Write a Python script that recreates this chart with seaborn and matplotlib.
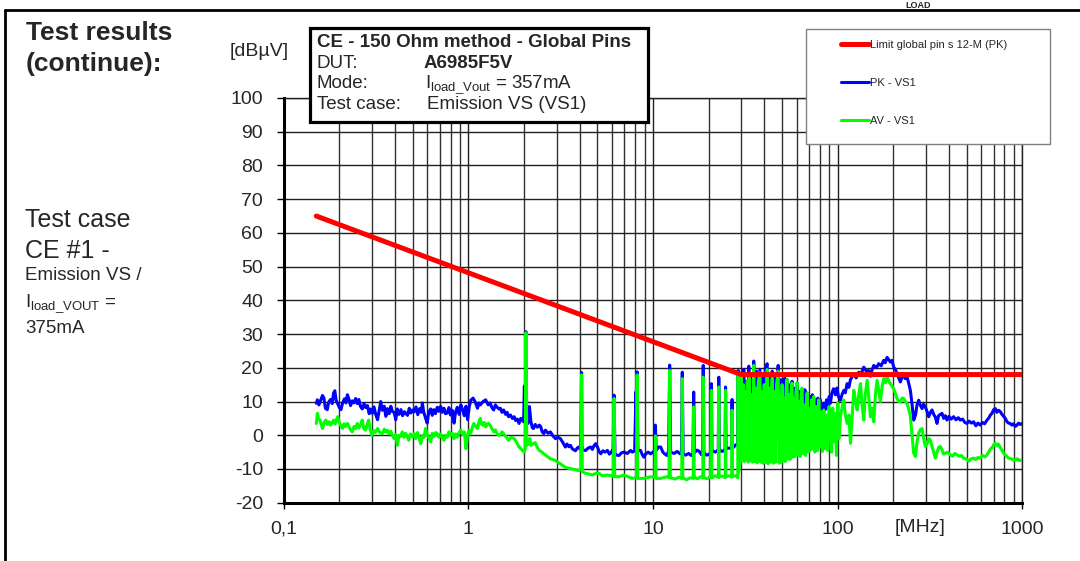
import matplotlib
matplotlib.use("Agg")
import matplotlib.pyplot as plt
from matplotlib.patches import Rectangle
from matplotlib.lines import Line2D
from matplotlib.ticker import FixedLocator, FixedFormatter, LogLocator, NullFormatter
import seaborn as sns

# ---- data (MHz, dBuV) ----
limit_freq = [0.15, 30, 1000]
limit_level = [65, 18, 18]

pk_points = [
    (0.150, 9.5), (0.152, 10.5), (0.155, 9.0), (0.158, 10.2), (0.162, 11.8), (0.165, 11.0),
    (0.168, 8.0), (0.172, 7.6), (0.175, 9.8), (0.179, 10.6), (0.183, 9.4), (0.186, 12.5),
    (0.189, 13.2), (0.192, 10.4), (0.196, 9.3), (0.200, 8.2), (0.204, 7.6), (0.208, 9.5),
    (0.213, 10.8), (0.217, 9.6), (0.221, 12.0), (0.226, 10.5), (0.230, 8.8), (0.235, 10.2),
    (0.240, 9.6), (0.245, 10.9), (0.250, 9.4), (0.255, 10.6), (0.260, 8.6), (0.266, 7.8),
    (0.272, 9.4), (0.278, 8.2), (0.284, 8.8), (0.290, 6.4), (0.296, 7.8), (0.302, 6.5),
    (0.308, 8.4), (0.315, 6.1), (0.322, 4.6), (0.328, 7.2), (0.335, 10.0), (0.342, 7.4),
    (0.350, 8.6), (0.357, 5.6), (0.364, 7.9), (0.372, 6.4), (0.380, 8.6), (0.388, 7.0),
    (0.396, 6.8), (0.404, 4.6), (0.412, 7.8), (0.421, 6.2), (0.431, 7.6), (0.440, 5.8),
    (0.450, 7.0), (0.459, 6.4), (0.468, 5.9), (0.478, 8.0), (0.488, 6.6), (0.498, 7.5),
    (0.508, 6.9), (0.520, 8.4), (0.532, 6.1), (0.544, 7.9), (0.556, 6.8), (0.563, 9.6),
    (0.572, 7.0), (0.585, 5.2), (0.598, 3.6), (0.610, 6.9), (0.624, 7.8), (0.637, 5.9),
    (0.649, 7.6), (0.663, 6.4), (0.678, 8.3), (0.692, 7.1), (0.707, 8.6), (0.722, 6.8),
    (0.737, 8.0), (0.752, 6.4), (0.768, 6.6), (0.784, 8.2), (0.800, 6.0), (0.818, 7.4),
    (0.836, 3.6), (0.852, 6.9), (0.870, 8.3), (0.890, 6.2), (0.910, 9.0), (0.930, 7.6),
    (0.950, 5.8), (0.970, 8.6), (0.990, 4.6), (1.010, 8.4),
    (1.03, 10.4), (1.06, 11.0), (1.09, 9.8), (1.12, 8.0), (1.14, 9.6), (1.16, 9.0),
    (1.20, 10.0), (1.24, 10.5), (1.28, 9.0), (1.31, 9.6), (1.34, 8.2), (1.37, 7.5),
    (1.40, 9.0), (1.42, 8.5), (1.46, 7.8), (1.49, 8.0), (1.52, 6.8), (1.55, 7.5),
    (1.59, 6.2), (1.62, 6.8), (1.65, 5.5), (1.69, 6.0), (1.73, 5.0), (1.77, 5.5),
    (1.80, 4.4), (1.84, 4.8), (1.88, 3.5), (1.92, 5.0), (1.96, 4.5), (1.99, 4.0),
    (2.01, 14.6), (2.03, 5.0), (2.05, 30.7), (2.07, 4.0), (2.10, 3.5), (2.14, 8.5),
    (2.18, 4.0), (2.22, 2.2), (2.25, 2.0), (2.30, 3.2), (2.36, 2.4), (2.42, 3.0),
    (2.46, 2.6), (2.51, 1.0), (2.56, 0.5), (2.61, 1.5), (2.70, 0.6), (2.78, 1.0),
    (2.87, -0.2), (2.96, -1.0), (3.05, -0.6), (3.15, -1.0), (3.25, -2.2), (3.35, -3.5),
    (3.42, -2.6), (3.50, -3.4), (3.57, -3.0), (3.65, -4.0), (3.72, -4.3), (3.80, -4.6),
    (3.88, -3.8), (3.96, -3.5), (4.04, -4.2), (4.08, 5.0), (4.10, 18.6), (4.12, -3.0),
    (4.16, -4.4), (4.31, -4.5), (4.45, -3.8), (4.59, -3.5), (4.69, -4.2), (4.80, -3.0),
    (4.89, -2.5), (5.00, -3.5), (5.10, -4.8), (5.21, -5.5), (5.35, -4.6), (5.50, -5.0),
    (5.66, -4.5), (5.80, -5.6), (5.95, -5.0), (6.08, -4.0), (6.15, 11.9), (6.22, -5.5),
    (6.35, -5.9), (6.54, -6.0), (6.75, -5.2), (6.96, -5.0), (7.25, -5.4), (7.56, -4.5),
    (7.72, -5.0), (7.95, -4.6), (8.08, 12.9), (8.14, -3.0), (8.20, 18.8), (8.28, -4.5),
    (8.56, -4.5), (8.75, -5.8), (8.92, -6.5), (9.10, -5.6), (9.40, -5.0), (9.70, -5.5),
    (10.0, -5.0), (10.2, -4.5), (10.3, 3.0), (10.4, -4.5), (10.7, -3.5), (11.0, -3.5),
    (11.3, -5.0), (11.6, -5.6), (11.9, -6.0), (12.15, -4.5), (12.3, 20.8), (12.45, -5.0),
    (13.0, -5.4), (13.5, -4.8), (14.0, -5.5), (14.25, -5.2), (14.4, 18.7), (14.55, -5.5),
    (15.0, -5.9), (15.6, -5.4), (16.1, -6.0), (16.45, -5.5), (16.6, 12.8), (16.75, -5.2),
    (17.3, -4.4), (17.8, -4.8), (18.3, -5.8), (18.55, -5.6), (18.7, 20.7), (18.85, -5.2),
    (19.5, -5.9), (20.2, -5.6), (20.55, -5.0), (20.7, 15.3), (20.85, -4.5), (21.7, -5.0),
    (22.3, -4.6), (22.55, -4.8), (22.7, 17.2), (22.85, -4.2), (23.6, -4.8), (24.4, -4.5),
    (24.55, -4.0), (24.7, 14.3), (24.85, -4.0), (25.7, -3.8), (26.4, -3.9), (26.65, -3.5),
    (26.8, 10.6), (26.95, -3.8), (27.9, -3.0), (28.7, -2.5), (28.9, 19.2), (29.2, -2.0),
    (29.6, -3.0), (30.0, 17.5), (30.5, 2.0), (31.0, 19.5), (31.5, 0.0), (32.0, 16.0),
    (32.5, 3.0), (33.0, 20.5), (33.6, 1.0), (34.2, 18.0), (34.8, 2.0), (35.1, 22.0),
    (35.7, 0.0), (36.3, 19.0), (36.9, 3.0), (37.9, 19.5), (38.5, 1.0), (39.2, 17.0),
    (39.9, 4.0), (40.6, 20.0), (41.5, 21.2), (42.2, 2.0), (42.9, 18.0), (43.5, 5.0),
    (44.2, 19.0), (45.0, 3.0), (45.8, 17.0), (46.6, 6.0), (47.6, 20.7), (48.4, 4.0),
    (49.2, 16.5), (50.0, 15.5), (50.8, 5.0), (51.7, 17.0), (52.5, 6.0), (53.2, 16.5),
    (54.2, 4.0), (55.2, 15.0), (56.0, 6.0), (56.6, 16.0), (57.6, 7.0), (58.7, 14.0),
    (59.5, 5.0), (60.3, 15.5), (61.4, 8.0), (62.5, 13.0), (63.3, 6.0), (64.2, 12.0),
    (65.2, 9.0), (66.4, 13.5), (67.3, 7.0), (68.3, 12.5), (69.5, 9.0), (70.8, 11.5),
    (72.0, 7.0), (73.0, 12.0), (74.2, 8.0), (75.5, 10.5), (77.0, 7.5), (78.0, 11.0),
    (79.0, 9.0), (80.5, 10.5), (82.0, 7.0), (84.1, 9.5), (85.5, 7.5), (87.0, 10.5),
    (88.5, 8.0), (90.0, 11.5), (91.3, 9.5), (93.0, 12.5), (95.0, 13.8), (97.2, 12.0),
    (99.0, 14.0), (101.0, 11.5), (103.5, 10.4), (105.5, 12.0), (107.9, 13.3), (110, 12.6),
    (112.5, 15.3), (115, 14.2), (117.3, 16.5), (120, 17.4), (122.3, 18.2), (126, 17.0),
    (130.1, 18.7), (134, 18.2), (138.5, 20.2), (143, 19.0), (147.4, 19.2), (150.5, 17.5),
    (154, 19.6), (156.9, 20.7), (162, 20.0), (166.9, 21.2), (172, 20.6), (177.6, 22.2),
    (181, 21.5), (185.1, 23.1), (189, 22.4), (193.0, 21.7), (197, 22.2), (201.2, 20.2),
    (205, 19.6), (209.7, 18.2), (214, 17.0), (218.6, 15.8), (223, 17.2), (227.9, 17.7),
    (232, 16.8), (237.6, 17.3), (242, 15.6), (247.6, 13.3), (253, 9.0), (258.1, 4.5),
    (264, 6.0), (269, 9.0), (274.8, 10.4), (280, 9.0), (286.4, 7.9), (292, 9.2),
    (298.5, 8.4), (305, 7.0), (311.2, 5.5), (318, 6.8), (324.4, 7.5), (331, 6.2),
    (338, 5.4), (345.2, 3.5), (352, 5.8), (360, 6.2), (367.4, 6.5), (375, 5.0),
    (383, 5.8), (391, 4.5), (400, 5.6), (412, 4.8), (424.8, 5.5), (437, 4.6),
    (450, 5.2), (461.6, 4.5), (475, 4.8), (488, 3.8), (501.6, 3.5), (515, 4.2),
    (530, 3.6), (545, 4.0), (560, 2.8), (575, 3.6), (592, 3.0), (608, 3.8),
    (625, 3.4), (644, 4.5), (660, 5.2), (672, 6.0), (685, 6.5), (700, 7.6),
    (714, 7.9), (728, 6.8), (744, 7.4), (760, 7.0), (776, 6.2), (792, 5.6),
    (809, 5.0), (826, 4.0), (843, 3.6), (860, 3.5), (878, 3.0), (897, 3.4),
    (916, 2.6), (935, 3.0), (955, 3.6), (975, 3.2), (1000, 3.5),
]

av_points = [
    (0.150, 3.5), (0.152, 6.5), (0.154, 5.0), (0.157, 4.5), (0.160, 3.0), (0.162, 2.0),
    (0.165, 3.6), (0.169, 4.5), (0.172, 3.2), (0.176, 4.0), (0.179, 3.0), (0.183, 3.8),
    (0.186, 4.5), (0.190, 3.4), (0.193, 4.6), (0.196, 5.5), (0.200, 3.6), (0.204, 2.8),
    (0.208, 2.0), (0.212, 3.4), (0.216, 2.6), (0.221, 3.5), (0.226, 2.4), (0.230, 1.6),
    (0.235, 1.0), (0.240, 2.6), (0.245, 2.0), (0.250, 3.5), (0.255, 2.2), (0.260, 3.0),
    (0.266, 4.5), (0.271, 2.0), (0.277, 1.5), (0.282, 3.0), (0.288, 4.5), (0.294, 1.6),
    (0.300, 0.0), (0.306, 1.4), (0.313, 0.8), (0.322, 2.0), (0.330, 1.0), (0.336, 0.6),
    (0.342, 0.5), (0.350, 1.8), (0.357, 1.0), (0.364, 1.5), (0.372, 0.4), (0.380, 1.2),
    (0.388, -0.2), (0.396, -1.0), (0.404, 0.2), (0.412, -3.0), (0.420, 0.0), (0.429, -0.4),
    (0.438, 1.0), (0.447, -0.6), (0.456, 0.6), (0.465, -0.2), (0.475, -1.5), (0.485, 0.4),
    (0.496, -0.4), (0.508, 0.5), (0.518, -1.0), (0.530, 0.8), (0.541, -0.8), (0.552, -2.5),
    (0.564, 0.0), (0.575, -0.6), (0.586, 2.0), (0.598, 0.2), (0.611, -0.8), (0.624, -2.0),
    (0.637, 0.6), (0.650, -0.4), (0.664, 0.8), (0.678, 0.5), (0.692, -0.6), (0.707, 0.4),
    (0.722, -0.8), (0.737, -1.5), (0.752, 0.0), (0.768, -0.6), (0.784, 1.0), (0.800, 0.0),
    (0.818, 0.6), (0.836, -1.0), (0.852, 0.4), (0.870, -0.6), (0.890, 0.8), (0.910, 1.5),
    (0.930, 0.2), (0.950, 1.0), (0.970, -4.0), (0.990, 0.2), (1.010, 1.5),
    (1.03, 0.6), (1.05, 2.4), (1.07, 3.5), (1.10, 2.5), (1.12, 2.0), (1.14, 4.0),
    (1.16, 5.0), (1.18, 3.2), (1.20, 3.0), (1.22, 3.8), (1.24, 2.5), (1.26, 3.0),
    (1.28, 3.6), (1.31, 3.0), (1.34, 2.0), (1.37, 1.0), (1.40, 1.6), (1.42, 0.8),
    (1.45, 0.0), (1.49, 0.2), (1.52, 1.0), (1.55, 0.5), (1.60, -0.5), (1.65, -1.5),
    (1.70, -0.6), (1.77, -1.0), (1.82, -2.0), (1.88, -3.5), (1.94, -4.2), (2.00, -5.0),
    (2.03, -4.0), (2.05, 30.4), (2.07, -3.0), (2.12, -2.5), (2.15, -1.0), (2.18, -3.0),
    (2.25, -2.5), (2.30, -2.2), (2.36, -3.6), (2.42, -4.5), (2.50, -5.0), (2.56, -5.5),
    (2.66, -6.2), (2.78, -7.0), (2.87, -7.2), (2.96, -7.5), (3.05, -8.0), (3.15, -8.5),
    (3.25, -9.0), (3.35, -9.5), (3.50, -9.8), (3.65, -10.0), (3.80, -10.2), (3.96, -10.5),
    (4.06, -10.0), (4.10, 17.9), (4.14, -10.8), (4.31, -11.3), (4.50, -11.5), (4.69, -11.8),
    (4.89, -11.3), (5.10, -11.3), (5.30, -12.0), (5.66, -11.8), (5.90, -12.0), (6.10, -12.0),
    (6.15, 10.9), (6.20, -12.3), (6.54, -12.3), (6.96, -11.8), (7.25, -12.2), (7.72, -12.8),
    (8.14, -12.5), (8.20, 17.9), (8.26, -12.8), (8.92, -12.8), (9.70, -12.3), (10.22, -12.5),
    (10.3, -0.2), (10.38, -12.8), (10.97, -12.8), (11.9, -12.3), (12.2, -12.5), (12.3, 19.2),
    (12.4, -12.6), (13.2, -13.0), (13.8, -12.4), (14.3, -12.8), (14.4, 16.8), (14.5, -12.6),
    (15.2, -13.2), (15.9, -12.6), (16.5, -12.8), (16.6, 8.4), (16.7, -12.4), (17.4, -12.9),
    (18.1, -12.3), (18.6, -12.7), (18.7, 17.2), (18.8, -12.5), (19.6, -12.9), (20.5, -12.3),
    (20.7, 13.3), (20.8, -12.6), (21.8, -12.0), (22.6, -12.5), (22.7, 14.3), (22.8, -12.4),
    (23.6, -12.1), (24.6, -12.6), (24.7, 13.3), (24.8, -12.3), (25.8, -12.0), (26.7, -12.4),
    (26.8, 7.4), (26.9, -12.2), (28.0, -12.0), (28.8, -12.6), (28.9, 18.2), (29.0, -11.0),
    (29.6, -8.0), (30.0, 17.5), (30.4, -7.5), (30.8, 15.0), (31.2, -7.8), (31.6, 13.0),
    (32.0, -7.5), (32.4, 16.0), (32.8, -8.0), (33.2, 17.0), (33.6, -7.5), (34.0, 12.0),
    (34.5, -8.0), (35.1, 20.7), (35.6, -7.8), (36.1, 14.0), (36.6, -8.2), (37.2, 16.0),
    (37.9, 18.5), (38.4, -8.0), (38.9, 13.0), (39.4, -8.3), (40.0, 15.0), (40.6, -8.0),
    (41.5, 19.5), (42.0, -8.5), (42.6, 14.0), (43.2, -8.0), (43.8, 12.0), (44.2, 17.0),
    (44.8, -8.3), (45.4, 13.0), (46.0, -8.0), (46.7, 15.0), (47.6, 19.0), (48.2, -8.3),
    (48.9, 12.0), (49.5, -8.0), (50.0, 15.0), (50.6, -7.5), (51.3, 11.0), (52.0, -7.8),
    (52.6, 14.0), (53.2, 16.5), (53.8, -7.0), (54.5, 12.0), (55.2, -7.2), (55.9, 13.0),
    (56.6, 15.5), (57.2, -6.5), (57.9, 11.0), (58.6, -6.3), (59.4, 13.0), (60.3, 15.5),
    (61.0, -6.0), (61.8, 10.0), (62.6, -6.3), (63.4, 12.0), (64.2, 14.0), (65.0, -5.5),
    (66.0, 9.0), (67.0, -6.0), (68.3, 12.5), (69.2, -5.0), (70.2, 8.0), (71.2, -4.5),
    (72.2, 10.5), (73.2, -4.0), (74.2, 11.5), (75.3, -5.0), (76.5, 8.5), (77.7, -4.5),
    (79.0, 10.5), (80.2, -3.5), (81.5, 7.0), (82.8, -4.8), (84.1, 7.5), (85.5, -4.0),
    (87.0, 6.0), (88.4, -4.5), (89.8, 8.5), (91.3, 6.0), (92.7, -5.0), (94.0, 8.0),
    (95.5, -2.0), (97.2, 6.5), (98.5, -6.0), (100.0, 9.5), (101.5, -1.0), (103.5, 5.5),
    (105.5, 8.0), (107.9, 10.4), (110, 6.0), (112.5, 3.5), (115, 6.0), (117.3, -2.4),
    (120, 6.0), (122.3, 13.3), (125, 10.0), (127.5, 7.5), (130, 12.0), (132.9, 15.3),
    (135.5, 9.0), (138.5, 4.5), (141, 12.0), (144.4, 16.3), (147.5, 11.0), (150.5, 5.5),
    (153.5, 8.0), (156.9, 4.0), (160, 12.0), (163.5, 16.3), (167, 13.0), (170.4, 10.0),
    (174, 14.5), (177.6, 16.8), (181, 15.5), (185.1, 17.7), (189, 16.0), (193.0, 15.3),
    (197, 14.5), (201.2, 13.8), (205, 12.5), (209.7, 10.9), (214, 10.0), (218.6, 9.9),
    (223, 11.0), (227.9, 10.9), (232, 10.0), (237.6, 9.4), (242, 8.0), (247.6, 5.5),
    (253, 0.0), (258.1, -5.3), (263.6, -6.3), (269, -2.0), (274.8, 0.6), (280, 1.6),
    (286.4, 2.0), (292, -1.0), (298.5, -3.3), (305, -2.5), (311, -1.0), (317.7, -1.4),
    (325, -3.5), (331, -5.0), (338.1, -6.8), (346, -5.0), (352, -3.6), (359.8, -3.3),
    (368, -4.5), (375, -5.6), (383, -5.3), (395, -5.0), (407.5, -5.8), (420, -6.2),
    (431, -5.4), (442.8, -5.8), (455, -6.2), (468, -6.0), (481.2, -6.8), (496, -7.0),
    (512, -7.7), (528, -7.0), (545, -6.8), (560, -7.2), (575, -6.6), (592, -6.8),
    (610, -6.0), (628, -6.4), (644, -5.8), (660, -4.8), (672, -4.0), (685, -3.8),
    (700, -2.8), (714, -2.4), (728, -3.0), (741, -2.6), (754, -3.3), (770, -4.2),
    (792, -5.3), (816, -6.0), (843, -6.8), (875, -7.0), (895, -7.4), (916, -7.3),
    (940, -7.0), (970, -7.5), (1000, -7.3),
]

x_ticks = [0.1, 1, 10, 100, 1000]
x_tick_labels = ["0,1", "1", "10", "100", "1000"]
y_ticks = [-20, -10, 0, 10, 20, 30, 40, 50, 60, 70, 80, 90, 100]

series_names = ["Limit global pin s 12-M (PK)", "PK - VS1", "AV - VS1"]

pk_freq, pk_level = zip(*pk_points)
av_freq, av_level = zip(*av_points)

# ---- style ----
sns.set_theme(style="white")
plt.rcParams["font.family"] = ["Liberation Sans", "DejaVu Sans"]
plt.rcParams["axes.unicode_minus"] = False
plt.rcParams["mathtext.fontset"] = "custom"
plt.rcParams["mathtext.rm"] = "Liberation Sans"
plt.rcParams["mathtext.it"] = "Liberation Sans:italic"
plt.rcParams["mathtext.bf"] = "Liberation Sans:bold"

W, H = 1080, 561


def px(x, y):
    # pixel position (from top-left) -> figure fraction
    return x / W, 1 - y / H


fig = plt.figure(figsize=(W / 100, H / 100), dpi=100)
ax = fig.add_axes([283.8 / W, 1 - 502.7 / H, 738.5 / W, 404.7 / H])

sns.lineplot(x=list(pk_freq), y=list(pk_level), ax=ax, color="#0000ff", lw=2.2,
             sort=False, estimator=None, label=series_names[1], zorder=3)
sns.lineplot(x=list(av_freq), y=list(av_level), ax=ax, color="#00ff00", lw=2.2,
             sort=False, estimator=None, label=series_names[2], zorder=4)
sns.lineplot(x=limit_freq, y=limit_level, ax=ax, color="#ff0000", lw=3.6,
             sort=False, estimator=None, label=series_names[0], zorder=5)

handles, labels = ax.get_legend_handles_labels()
ax.get_legend().remove()

ax.set_xscale("log")
ax.set_xlim(0.1, 1000)
ax.set_ylim(-20, 100)
ax.set_xlabel("")
ax.set_ylabel("")

ax.xaxis.set_major_locator(FixedLocator(x_ticks))
ax.xaxis.set_major_formatter(FixedFormatter(x_tick_labels))
ax.xaxis.set_minor_locator(LogLocator(base=10, subs=range(2, 10)))
ax.xaxis.set_minor_formatter(NullFormatter())
ax.yaxis.set_major_locator(FixedLocator(y_ticks))

ax.grid(which="major", axis="both", color="#202020", lw=1.0)
ax.grid(which="minor", axis="x", color="#303030", lw=1.0)
ax.set_axisbelow(True)

for side in ["left", "bottom"]:
    ax.spines[side].set_color("black")
    ax.spines[side].set_linewidth(2.2)
for side in ["top", "right"]:
    ax.spines[side].set_color("#202020")
    ax.spines[side].set_linewidth(1.0)

ax.tick_params(axis="x", which="major", direction="out", length=4, width=1,
               color="black", pad=9, labelsize=14, bottom=True)
ax.tick_params(axis="x", which="minor", length=0)
ax.tick_params(axis="y", which="major", direction="out", length=5, width=1,
               color="black", pad=10, labelsize=14, left=True)

# axis unit labels
fig.text(*px(259, 52), "[dBµV]", fontsize=14, ha="center", va="center")
fig.text(*px(920, 528), "[MHz]", fontsize=14, ha="center", va="center")

# legend box
fig.add_artist(Rectangle(px(806, 144), (1050 - 806) / W, (144 - 29) / H,
                         transform=fig.transFigure, facecolor="white",
                         edgecolor="#808080", lw=1.0, zorder=5))
order = [labels.index(n) for n in series_names]
fig.legend([handles[i] for i in order], [labels[i] for i in order],
           loc="upper left", bbox_to_anchor=px(841, 40), frameon=False,
           fontsize=8, handlelength=2.5, handletextpad=0.1, labelspacing=2.5,
           borderpad=0, borderaxespad=0).set_zorder(6)

# info box
fig.add_artist(Rectangle(px(310, 122), (648 - 310) / W, (122 - 28) / H,
                         transform=fig.transFigure, facecolor="white",
                         edgecolor="black", lw=2.3, zorder=5))
fig.text(*px(317, 47), "CE - 150 Ohm method - Global Pins", fontsize=13.5,
         fontweight="bold", va="baseline", zorder=6)
fig.text(*px(317, 67.5), "DUT:", fontsize=13.5, va="baseline", zorder=6)
fig.text(*px(424, 67.5), "A6985F5V", fontsize=13.5, fontweight="bold", va="baseline", zorder=6)
fig.text(*px(317, 88), "Mode:", fontsize=13.5, va="baseline", zorder=6)
fig.text(*px(425, 88), r"$\mathrm{I_{load\_Vout}}$ = 357mA", fontsize=13.5,
         va="baseline", zorder=6)
fig.text(*px(317, 109), "Test case:", fontsize=13.5, va="baseline", zorder=6)
fig.text(*px(427, 109), "Emission VS (VS1)", fontsize=13.5, va="baseline", zorder=6)

# left side notes
fig.text(*px(26, 40), "Test results", fontsize=19, fontweight="bold", va="baseline")
fig.text(*px(26, 71), "(continue):", fontsize=19, fontweight="bold", va="baseline")
fig.text(*px(25, 227), "Test case", fontsize=18, va="baseline")
fig.text(*px(25, 258), "CE #1 -", fontsize=18, va="baseline")
fig.text(*px(25, 280), "Emission VS /", fontsize=13.5, va="baseline")
fig.text(*px(25, 307), r"$\mathrm{I_{load\_VOUT}}$ =", fontsize=13.5, va="baseline")
fig.text(*px(25, 333), "375mA", fontsize=13.5, va="baseline")

# page frame and the caption fragment above it
fig.add_artist(Line2D([5 / W, 5 / W], [0, 1 - 10 / H], color="black", lw=2.0))
fig.add_artist(Line2D([5 / W, 1], [1 - 10 / H, 1 - 10 / H], color="black", lw=2.0))
fig.text(*px(905, 7.5), "LOAD", fontsize=6.5, fontweight="bold", va="baseline")

fig.savefig("out.png", dpi=100)
